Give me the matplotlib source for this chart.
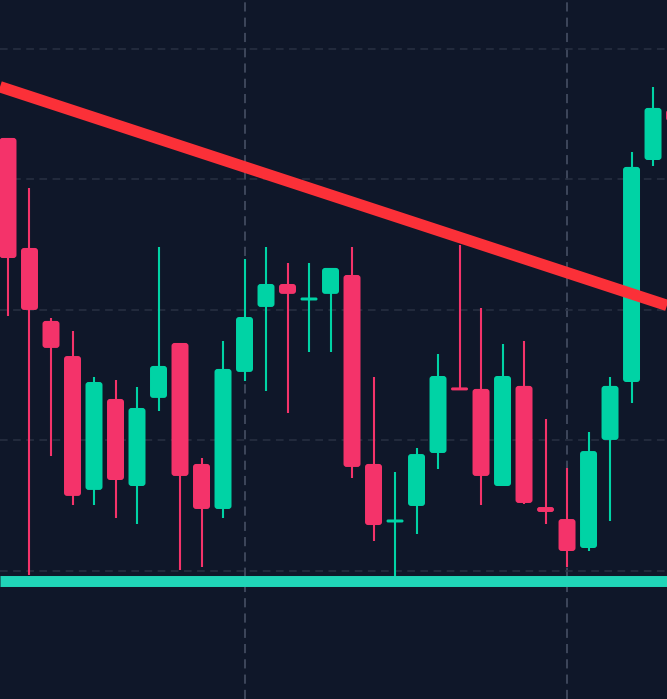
import matplotlib
matplotlib.use('Agg')
import matplotlib.pyplot as plt
from matplotlib.patches import FancyBboxPatch

# OHLC values (one candle per slot)
opens = [133.18, 124.75, 119.16, 116.47, 106.21, 113.18, 106.51, 113.26,
         117.47, 108.20, 104.75, 115.25, 120.23, 121.99, 120.82, 121.23,
         122.68, 108.20, 103.80, 104.98, 109.04, 113.97, 113.95, 106.51,
         114.18, 104.90, 103.98, 101.76, 110.04, 114.48, 131.49, 135.33]
highs = [133.18, 129.35, 119.39, 118.39, 114.87, 114.64, 114.10, 124.83,
         117.47, 108.66, 117.62, 123.91, 124.83, 123.60, 123.60, 123.22,
         124.83, 114.87, 107.59, 109.42, 116.63, 124.98, 120.15, 117.39,
         117.62, 111.65, 107.89, 110.65, 114.87, 132.11, 137.09, 136.50]
lows = [119.54, 99.69, 108.81, 105.06, 105.06, 104.06, 103.60, 112.26,
        100.08, 100.31, 104.06, 114.56, 113.79, 112.11, 116.78, 116.78,
        107.13, 102.30, 99.62, 102.83, 107.82, 113.93, 105.06, 106.51,
        105.13, 103.60, 100.31, 101.53, 103.83, 112.87, 131.03, 133.00]
closes = [123.98, 120.00, 117.09, 105.75, 114.48, 106.97, 112.49, 115.71,
          107.28, 104.75, 115.48, 119.46, 121.99, 121.23, 120.86, 123.22,
          107.97, 103.52, 103.86, 108.96, 114.94, 113.93, 107.28, 114.94,
          105.21, 104.52, 101.53, 109.19, 114.18, 130.96, 135.48, 134.48]

# descending resistance (two anchor candles) and flat support
trend_x = [0, 30]
trend_y = [136.9, 120.7]
support_level = 99.2

price_grid = [100, 110, 120, 130, 140]
time_grid = [11, 26]

BG = '#0f1729'
UP = '#00d3a5'
DOWN = '#f4336a'

W, H = 667, 699
fig = plt.figure(figsize=(W / 100, H / 100), dpi=100, facecolor=BG)
ax = fig.add_axes([0, 0, 1, 1])
ax.set_facecolor(BG)

xmin, xmax = -0.372, 30.65
ymin, ymax = 90.19, 143.75
ax.set_xlim(xmin, xmax)
ax.set_ylim(ymin, ymax)

# grid
ax.set_xticks(time_grid)
ax.set_yticks(price_grid)
ax.grid(axis='y', color='#283143', linewidth=1.1, linestyle=(0, (5, 3.6)), zorder=0)
ax.grid(axis='x', color='#4a5468', linewidth=1.1, linestyle=(0, (6, 4)), zorder=0)
ax.set_axisbelow(True)
ax.tick_params(length=0, labelbottom=False, labelleft=False)
for s in ax.spines.values():
    s.set_visible(False)

# pixel <-> data ratio, for rounded bodies
px_x = W / (xmax - xmin)
px_y = H / (ymax - ymin)
aspect = px_x / px_y
body_w = 0.79
min_h = 3 / px_y
r_round = 3 / px_x

for i in range(len(opens)):
    o, h, l, c = opens[i], highs[i], lows[i], closes[i]
    col = UP if c > o else DOWN
    ax.vlines(i, l, h, color=col, linewidth=1.5, zorder=2)
    lo, hi = min(o, c), max(o, c)
    if hi - lo < min_h:
        mid = (hi + lo) / 2
        lo, hi = mid - min_h / 2, mid + min_h / 2
    bh = hi - lo
    r = min(r_round, body_w / 2, bh / aspect / 2)
    box = FancyBboxPatch((i - body_w / 2, lo), body_w, bh,
                         boxstyle='round,pad=0,rounding_size=%f' % r,
                         mutation_aspect=aspect, facecolor=col,
                         edgecolor='none', zorder=3)
    ax.add_patch(box)

# support line and descending trendline
ax.axhline(support_level, color='#20d5b8', linewidth=7.9, solid_capstyle='butt', zorder=4)
ax.axline((trend_x[0], trend_y[0]), (trend_x[1], trend_y[1]),
          color='#fb3038', linewidth=8.2, solid_capstyle='butt', zorder=5)

fig.savefig('out.png', dpi=100, facecolor=BG)
